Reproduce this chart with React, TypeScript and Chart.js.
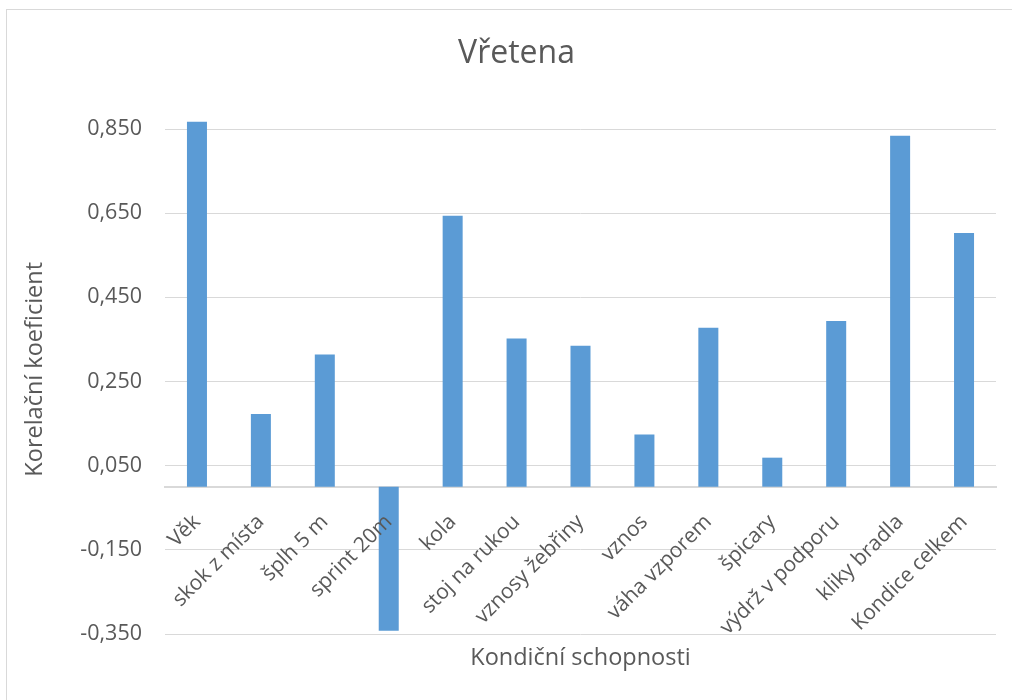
import React, { useEffect, useRef } from "react";
import { Chart, registerables } from "chart.js";

Chart.register(...registerables);

const chartTitle = "Vřetena";
const xAxisTitle = "Kondiční schopnosti";
const yAxisTitle = "Korelační koeficient";

const categories = [
  "Věk",
  "skok z místa",
  "šplh 5 m",
  "sprint 20m",
  "kola",
  "stoj na rukou",
  "vznosy žebřiny",
  "vznos",
  "váha vzporem",
  "špicary",
  "výdrž v podporu",
  "kliky bradla",
  "Kondice celkem",
];

const values = [0.867, 0.173, 0.314, -0.342, 0.644, 0.352, 0.335, 0.124, 0.378, 0.069, 0.394, 0.834, 0.603];

const yMin = -0.35;
const yMax = 0.85;
const yStep = 0.2;

const FONT = "'Open Sans', 'DejaVu Sans', sans-serif";
const TEXT = "#595959";
const GRID = "#d9d9d9";
const BAR = "#5B9BD5";

export default function App() {
  const canvasRef = useRef<HTMLCanvasElement | null>(null);

  useEffect(() => {
    if (!canvasRef.current) return;
    const chart = new Chart(canvasRef.current, {
      type: "bar",
      data: {
        labels: categories,
        datasets: [
          {
            label: chartTitle,
            data: values,
            backgroundColor: BAR,
            borderWidth: 0,
            barPercentage: 0.313,
            categoryPercentage: 1,
            xAxisID: "x",
            yAxisID: "y",
            clip: false as any,
          },
        ],
      },
      options: {
        responsive: false,
        animation: false,
        layout: { padding: 0 },
        plugins: {
          legend: { display: false },
          tooltip: { enabled: false },
          title: {
            display: true,
            text: chartTitle,
            color: TEXT,
            font: { family: FONT, size: 32, weight: "normal" },
            padding: { top: 25, bottom: 55.6 },
          },
        },
        scales: {
          x: {
            type: "category",
            position: { y: 0 } as any,
            grid: { display: false },
            border: { display: true, color: GRID, width: 2 },
            ticks: {
              z: 1,
              color: TEXT,
              font: { family: FONT, size: 21 },
              minRotation: 45,
              maxRotation: 45,
              autoSkip: false,
              padding: 15,
            },
          },
          x2: {
            type: "category",
            position: "bottom",
            grid: { display: false },
            border: { display: false },
            ticks: { display: false },
            title: {
              display: true,
              text: xAxisTitle,
              color: TEXT,
              font: { family: FONT, size: 23.5 },
              padding: { top: 0, bottom: 36 },
            },
            afterFit: (scale: any) => {
              scale.height = 74;
            },
          },
          y: {
            type: "linear",
            position: "left",
            min: yMin,
            max: yMax,
            grid: { color: GRID, lineWidth: 1, drawTicks: false },
            border: { display: false },
            ticks: {
              stepSize: yStep,
              color: TEXT,
              font: { family: FONT, size: 21.5 },
              padding: 23,
              callback: (v: any) => Number(v).toFixed(3).replace(".", ","),
            },
            title: {
              display: true,
              text: "    " + yAxisTitle,
              color: TEXT,
              font: { family: FONT, size: 23.5 },
              padding: { top: 14, bottom: 0 },
            },
            afterFit: (scale: any) => {
              scale.width = 158;
            },
          },
          yRight: {
            type: "linear",
            position: "right",
            min: yMin,
            max: yMax,
            grid: { display: false, drawOnChartArea: false },
            border: { display: false },
            ticks: { display: false },
            afterFit: (scale: any) => {
              scale.width = 30;
            },
          },
        },
      },
    });
    return () => chart.destroy();
  }, []);

  return (
    <div
      style={{
        position: "fixed",
        left: 6,
        top: 9,
        width: 1021,
        height: 700,
        border: "1px solid #d9d9d9",
        boxSizing: "border-box",
        background: "#fff",
      }}
    >
      <canvas ref={canvasRef} width={1019} height={698} style={{ display: "block" }} />
    </div>
  );
}
